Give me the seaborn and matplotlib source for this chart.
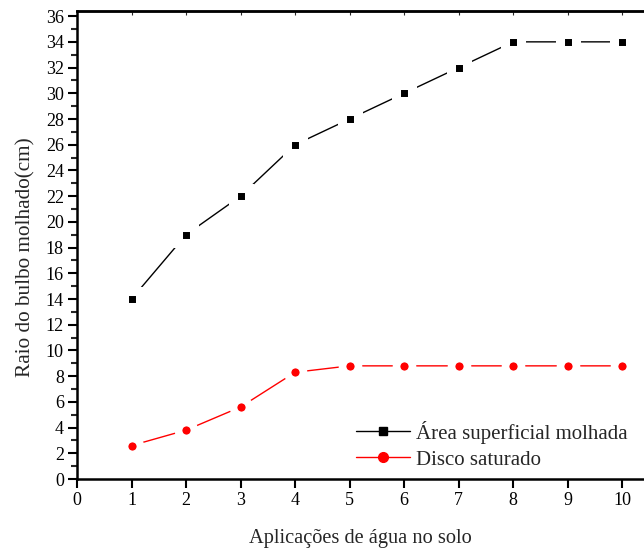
import matplotlib
matplotlib.use("Agg")
import matplotlib.pyplot as plt
import seaborn as sns
import pandas as pd
from matplotlib.lines import Line2D
from matplotlib.ticker import MultipleLocator

aplicacoes = [1, 2, 3, 4, 5, 6, 7, 8, 9, 10]
area_superficial = [14, 19, 22, 26, 28, 30, 32, 34, 34, 34]
disco_saturado = [2.6, 3.8, 5.6, 8.3, 8.8, 8.8, 8.8, 8.8, 8.8, 8.8]
labels = ["Área superficial molhada", "Disco saturado"]

sns.set_style("ticks")
plt.rcParams['font.family'] = ['Liberation Serif', 'DejaVu Serif']

fig = plt.figure(figsize=(6.44, 5.51), dpi=100)
ax = fig.add_axes([77/644, 1-479/551, 1-77/644, 468/551])

df1 = pd.DataFrame({"x": aplicacoes, "y": area_superficial})
df2 = pd.DataFrame({"x": aplicacoes, "y": disco_saturado})

sns.lineplot(data=df1, x="x", y="y", ax=ax, color="black", lw=1.0,
             marker="s", markersize=11, markerfacecolor="black",
             markeredgecolor="white", markeredgewidth=6.5, zorder=3)
sns.lineplot(data=df2, x="x", y="y", ax=ax, color="red", lw=1.0,
             marker="o", markersize=11.5, markerfacecolor="red",
             markeredgecolor="white", markeredgewidth=5.5, zorder=3)

ax.set_xlim(0, 10.4)
ax.set_ylim(0, 36.4)
ax.xaxis.set_major_locator(MultipleLocator(1))
ax.yaxis.set_major_locator(MultipleLocator(2))
ax.yaxis.set_minor_locator(MultipleLocator(1))

for s in ["left", "bottom", "top"]:
    ax.spines[s].set_linewidth(1.8)
    ax.spines[s].set_color("black")
ax.spines["right"].set_visible(False)

ax.tick_params(axis="both", which="major", direction="out", length=6.5, width=1.5,
               labelsize=13, colors="black", pad=3)
ax.tick_params(axis="y", which="minor", direction="out", length=4, width=1.5)
ax.tick_params(axis="x", which="both", top=False)
sec = ax.secondary_xaxis("top")
sec.set_xticks(aplicacoes)
sec.tick_params(direction="in", length=3, width=0.8, labeltop=False)
sec.spines["top"].set_linewidth(1.8)

ax.set_xlabel("Aplicações de água no solo", fontsize=14.7, labelpad=14)
ax.set_ylabel("Raio do bulbo molhado(cm)", fontsize=15.3)
ax.yaxis.set_label_coords(-0.074, 0.474)

handles = [
    Line2D([0], [0], color="black", lw=1.0, marker="s", markersize=6,
           markerfacecolor="black", markeredgecolor="black"),
    Line2D([0], [0], color="red", lw=1.0, marker="o", markersize=7,
           markerfacecolor="red", markeredgecolor="red"),
]
ax.legend(handles, labels, loc="lower right", bbox_to_anchor=(1.005, -0.02),
          frameon=False, fontsize=15, handlelength=2.6, handletextpad=0.3,
          labelspacing=0.3)

fig.savefig("out.png", dpi=100)
